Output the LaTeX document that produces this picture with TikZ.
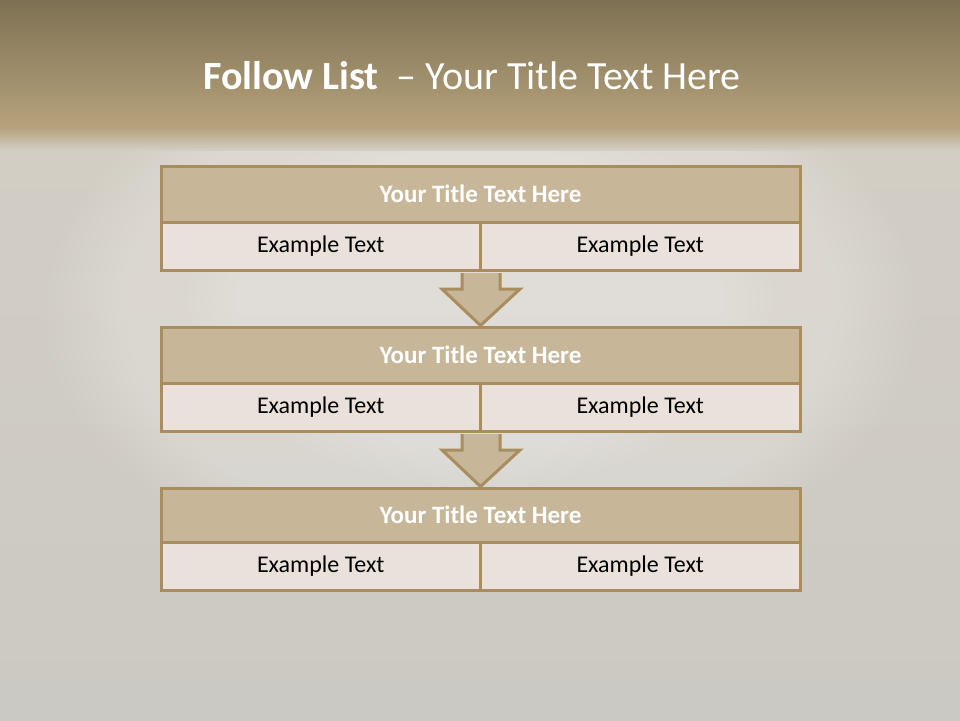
\documentclass[tikz,border=0pt]{standalone}
\usepackage{fontspec}
\setmainfont{Carlito}
\usetikzlibrary{calc,fadings}
\definecolor{bordc}{HTML}{A98D5E}
\definecolor{titlef}{HTML}{C8B698}
\definecolor{cellf}{HTML}{EAE2DA}
\definecolor{bandtop}{HTML}{7E7153}
\definecolor{bandbot}{HTML}{B6A27C}
\definecolor{bgA}{HTML}{D3CEC4}
\definecolor{bgB}{HTML}{CBC9C3}
\definecolor{bgC}{HTML}{CDCBC6}
\tikzset{
  titlebox/.style={draw=bordc, line width=3pt, fill=titlef, minimum width=639pt, minimum height=56pt, inner sep=0pt, font=\fontsize{25}{30}\selectfont\bfseries, text=white},
  cellbox/.style={draw=bordc, line width=3pt, fill=cellf, minimum width=319.5pt, inner sep=0pt, font=\fontsize{24}{29}\selectfont, text=black},
  downarrow/.style={draw=bordc, line width=3pt, fill=titlef, line join=miter},
}
\begin{document}
\begin{tikzpicture}[x=1pt,y=-1pt]
\useasboundingbox (0,0) rectangle (960,720);
% background
\shade[top color=bgA, bottom color=bgB] (0,130) rectangle (960,720);
\fill[white, opacity=0.22, path fading=circle with fuzzy edge 20 percent] (480,310) ellipse [x radius=440, y radius=280];
\fill[white, opacity=0.15, path fading=circle with fuzzy edge 20 percent] (480,300) ellipse [x radius=300, y radius=190];
\shade[top color=bandtop, bottom color=bandbot] (0,0) rectangle (960,128);
\shade[top color=bandbot, bottom color=bgA] (0,127.5) rectangle (960,150);
% title
\node[text=white, font=\fontsize{40}{48}\selectfont] (title) at (472,76) {\textbf{Follow List}\ \ – Your Title Text Here};
% box 1
\node[titlebox] (t1) at (480.5,194) {Your Title Text Here};
\node[cellbox, minimum height=48pt] (l1) at (320.75,246) {Example Text};
\node[cellbox, minimum height=48pt] (r1) at (640.25,246) {Example Text};
% box 2
\node[titlebox] (t2) at (480.5,355) {Your Title Text Here};
\node[cellbox, minimum height=48pt] (l2) at (320.75,407) {Example Text};
\node[cellbox, minimum height=48pt] (r2) at (640.25,407) {Example Text};
% box 3
\node[titlebox, minimum height=54pt] (t3) at (480.5,515) {Your Title Text Here};
\node[cellbox, minimum height=48pt] (l3) at (320.75,566) {Example Text};
\node[cellbox, minimum height=48pt] (r3) at (640.25,566) {Example Text};
% arrows
\draw[downarrow] ($(l1.south east)+(-20,1.5)$) -- ++(0,16) -- ++(-20,0) -- ($(t2.north)+(0,0)$) -- ($(r1.south west)+(41,17.5)$) -- ++(-20,0) -- ($(r1.south west)+(21,1.5)$);
\draw[downarrow] ($(l2.south east)+(-20,1.5)$) -- ++(0,16) -- ++(-20,0) -- ($(t3.north)+(0,0)$) -- ($(r2.south west)+(41,17.5)$) -- ++(-20,0) -- ($(r2.south west)+(21,1.5)$);
\end{tikzpicture}
\end{document}
